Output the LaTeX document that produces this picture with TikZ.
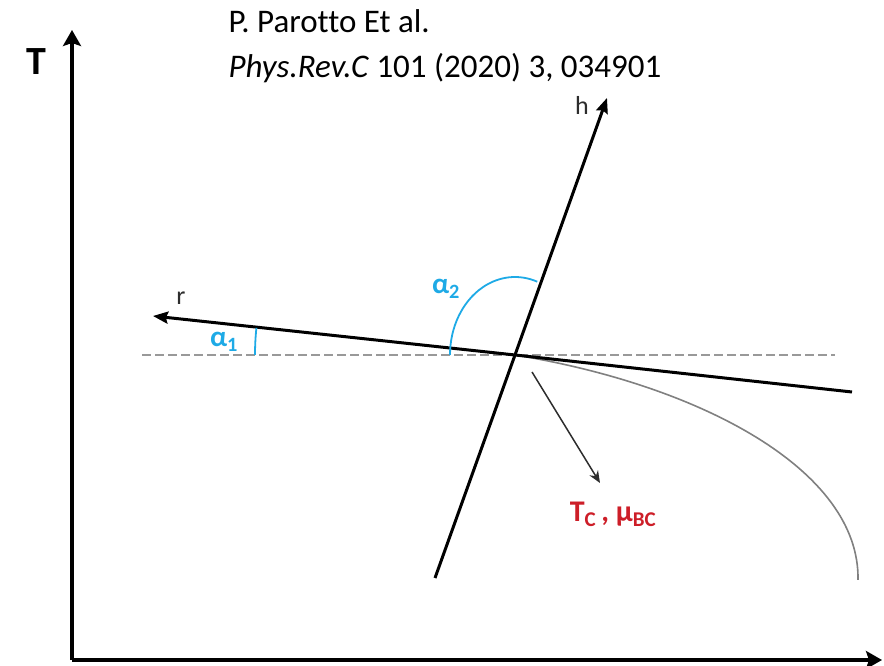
\documentclass[tikz,border=0pt]{standalone}
\usepackage{fontspec}
\setmainfont{Carlito}[Ligatures=NoCommon]
\usepackage{xcolor}
\usetikzlibrary{arrows.meta}
\definecolor{anglecol}{RGB}{30,170,230}
\definecolor{critcol}{RGB}{205,30,40}
\definecolor{inkgray}{RGB}{45,45,45}

\begin{document}
\begin{tikzpicture}[x=1pt, y=1pt,
  axis/.style={line width=4pt, -{Stealth[length=16pt, width=18pt, inset=3pt]}},
  dirline/.style={line width=3pt, -{Stealth[length=15pt, width=12pt, inset=2pt]}},
  angarc/.style={anglecol, line width=1.8pt},
  lbl/.style={inkgray, font=\fontsize{26}{30}\selectfont},
  alph/.style={anglecol, font=\fontsize{29}{30}\selectfont\bfseries}]
\useasboundingbox (0,0) rectangle (884,666);
% axes
\coordinate (O) at (72,6);
\coordinate (Ttip) at (72,636);
\coordinate (mutip) at (882,6);
\draw[axis] (O) -- (Ttip);
\draw[axis] (O) -- (mutip);
\node[font=\fontsize{40}{40}\selectfont\bfseries] (Tlab) at (36,604) {T};
% reference
\node[anchor=base west, font=\fontsize{33}{40}\selectfont] (ref1) at (225,633) {P. Parotto Et al.};
\node[anchor=base west, font=\fontsize{33}{40}\selectfont] (ref2) at (225,588) {\textit{Phys.Rev.C} 101 (2020) 3, 034901};
% critical point and directions
\coordinate (CP) at (515,311);
\coordinate (dashL) at (142,311);
\coordinate (dashR) at (835,311);
\coordinate (rtip) at (153,350);
\coordinate (rend) at (852,274);
\coordinate (htip) at (607,568);
\coordinate (hend) at (435,88);
\draw[gray!80, line width=2pt, dash pattern=on 9pt off 4pt] (dashL) -- (dashR);
\draw[gray, line width=1.6pt] (CP) .. controls (700,281) and (860,196) .. (858,86);
\draw[line width=3pt] (CP) -- (rend);
\draw[dirline] (CP) -- (rtip);
\draw[line width=3pt] (hend) -- (CP);
\draw[dirline] (CP) -- (htip);
\node[lbl] (rlab) at (181,368) {r};
\node[lbl] (hlab) at (582,561) {h};
% angles
\draw[angarc] (CP) ++(-260,0) arc[start angle=180, end angle=174, radius=260];
\draw[angarc] (CP) ++(-65,0) arc[start angle=180, end angle=70, x radius=65, y radius=78];
\node[alph] (a1) at (224,324) {α\textsubscript{1}};
\node[alph] (a2) at (446,377) {α\textsubscript{2}};
% pointer to the critical values
\coordinate (pstart) at (532,294);
\coordinate (pend) at (600,183);
\draw[inkgray, line width=1.5pt, -{Stealth[length=12pt, width=10pt]}] (pstart) -- (pend);
\node[critcol, font=\fontsize{30}{30}\selectfont\bfseries] (crit) at (613,152) {T\textsubscript{C}\,, μ\textsubscript{BC}};
\end{tikzpicture}
\end{document}
